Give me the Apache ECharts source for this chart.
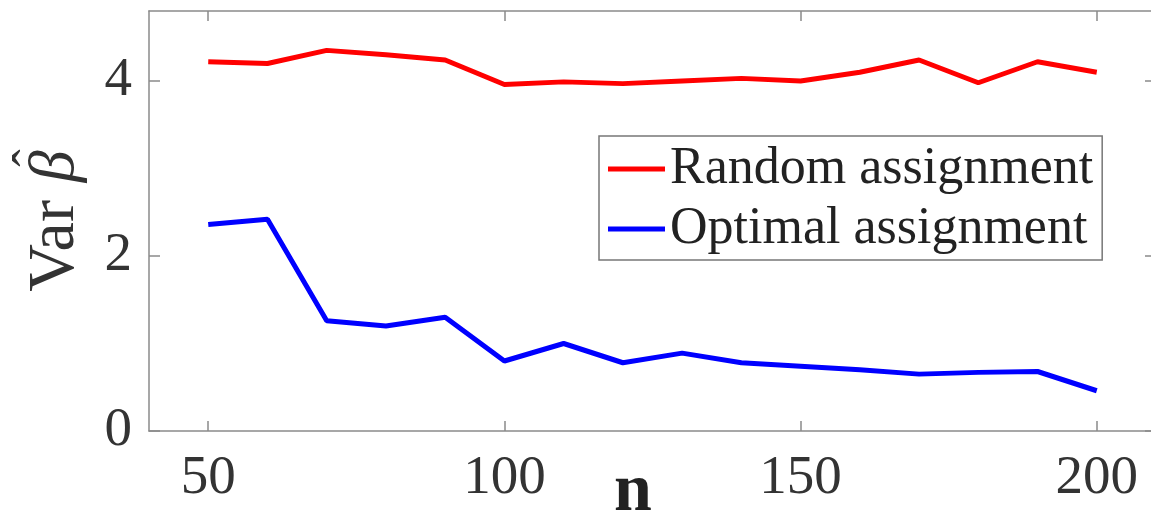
<!DOCTYPE html>
<html>
<head>
<meta charset="utf-8">
<script src="https://cdn.jsdelivr.net/npm/echarts@6/dist/echarts.min.js"></script>
<style>
html, body { margin: 0; padding: 0; background: #fff; }
#main { width: 1151px; height: 511px; }
</style>
</head>
<body>
<div id="main"></div>
<script>
var nValues = [50, 60, 70, 80, 90, 100, 110, 120, 130, 140, 150, 160, 170, 180, 190, 200];
var randomVar = [4.22, 4.20, 4.35, 4.30, 4.24, 3.96, 3.99, 3.97, 4.00, 4.03, 4.00, 4.10, 4.24, 3.98, 4.22, 4.10];
var optimalVar = [2.36, 2.42, 1.26, 1.20, 1.30, 0.80, 1.00, 0.78, 0.89, 0.78, 0.74, 0.70, 0.65, 0.67, 0.68, 0.46];
var xTicks = [50, 100, 150, 200];
var yTicks = [0, 2, 4];

function pairs(ys) {
    return nValues.map(function (n, i) { return [n, ys[i]]; });
}

var font = '"Liberation Serif", "Times New Roman", serif';
var axisGray = '#8a8a8a';

var chart = echarts.init(document.getElementById('main'));
chart.setOption({
    animation: false,
    textStyle: { fontFamily: font },
    grid: {
        left: 149,
        top: 11,
        right: -5,
        bottom: 80,
        containLabel: false,
        outerBoundsMode: 'none'
    },
    graphic: [
        // hat over the beta of the y-axis title
        {
            type: 'text',
            x: 35,
            y: 158,
            rotation: Math.PI / 2,
            style: {
                text: 'ˆ',
                font: '52px "Liberation Serif"',
                fill: '#333',
                align: 'center',
                verticalAlign: 'middle'
            }
        },
        // x-axis title
        {
            type: 'text',
            x: 633,
            y: 492,
            style: {
                text: 'n',
                font: 'bold 68px "Liberation Serif"',
                fill: '#222',
                align: 'center',
                verticalAlign: 'middle'
            }
        }
    ],
    legend: {
        orient: 'vertical',
        left: 599,
        top: 136,
        padding: [5, 9, 3, 9],
        itemGap: 4,
        itemWidth: 57,
        itemHeight: 5,
        icon: 'rect',
        borderColor: '#777',
        borderWidth: 1.5,
        textStyle: {
            fontFamily: font,
            fontSize: 52,
            lineHeight: 56,
            color: '#222'
        },
        data: ['Random assignment', 'Optimal assignment']
    },
    xAxis: [
        {
            type: 'value',
            min: 40,
            max: 210,
            axisLine: { show: true, lineStyle: { color: axisGray, width: 1.5 } },
            axisTick: {
                show: true,
                inside: true,
                length: 10,
                customValues: xTicks,
                lineStyle: { color: axisGray, width: 1.5 }
            },
            axisLabel: {
                customValues: xTicks,
                margin: 20,
                fontFamily: font,
                fontSize: 55,
                color: '#333'
            },
            splitLine: { show: false }
        },
        {
            type: 'value',
            position: 'top',
            min: 40,
            max: 210,
            axisLine: { show: true, onZero: false, lineStyle: { color: axisGray, width: 1.5 } },
            axisTick: {
                show: true,
                inside: true,
                length: 10,
                customValues: xTicks,
                lineStyle: { color: axisGray, width: 1.5 }
            },
            axisLabel: { show: false },
            splitLine: { show: false }
        }
    ],
    yAxis: [
        {
            type: 'value',
            min: 0,
            max: 4.8,
            name: '{v|Var}{b|β}',
            nameLocation: 'middle',
            nameGap: 60,
            nameMoveOverlap: false,
            nameTextStyle: {
                rich: {
                    v: { fontFamily: font, fontSize: 66, color: '#333' },
                    b: { fontFamily: font, fontSize: 64, fontStyle: 'italic', color: '#333', padding: [0, 0, 0, 18] }
                }
            },
            axisLine: { show: true, lineStyle: { color: axisGray, width: 1.5 } },
            axisTick: {
                show: true,
                inside: true,
                length: 11,
                customValues: yTicks,
                lineStyle: { color: axisGray, width: 1.5 }
            },
            axisLabel: {
                customValues: yTicks,
                margin: 17,
                fontFamily: font,
                fontSize: 55,
                color: '#333'
            },
            splitLine: { show: false }
        },
        {
            type: 'value',
            position: 'right',
            min: 0,
            max: 4.8,
            axisLine: { show: true, onZero: false, lineStyle: { color: axisGray, width: 1.5 } },
            axisTick: {
                show: true,
                inside: true,
                length: 11,
                customValues: yTicks,
                lineStyle: { color: axisGray, width: 1.5 }
            },
            axisLabel: { show: false },
            splitLine: { show: false }
        }
    ],
    series: [
        {
            name: 'Random assignment',
            type: 'line',
            symbol: 'none',
            color: '#ff0000',
            lineStyle: { width: 5, color: '#ff0000' },
            data: pairs(randomVar)
        },
        {
            name: 'Optimal assignment',
            type: 'line',
            symbol: 'none',
            color: '#0000ff',
            lineStyle: { width: 5, color: '#0000ff' },
            data: pairs(optimalVar)
        }
    ]
});
</script>
</body>
</html>
